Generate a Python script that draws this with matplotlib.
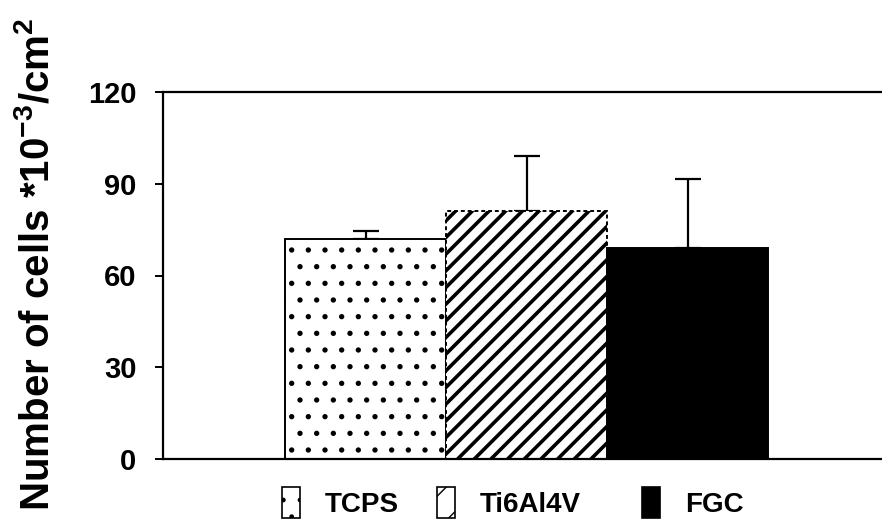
import matplotlib
matplotlib.use("Agg")
import matplotlib.pyplot as plt
from matplotlib.patches import Patch

plt.rcParams['font.family'] = ['Liberation Sans', 'DejaVu Sans']
plt.rcParams['font.weight'] = 'bold'
plt.rcParams['mathtext.default'] = 'regular'

# data
groups = ['TCPS', 'Ti6Al4V', 'FGC']
cells = [72, 81, 69]
cells_sd = [2.7, 18, 22.5]
hatches = ['.', '//', '']
legend_hatches = ['.', '/', '']
faces = ['white', 'white', 'black']
edge_styles = ['solid', (0, (2, 1.5)), 'solid']
yticks = [0, 30, 60, 90, 120]
# left edge of each legend entry (figure fraction)
legend_x = [282 / 882, 437 / 882, 642 / 882]

fig = plt.figure(figsize=(8.82, 5.29), dpi=100)
ax = fig.add_axes([163 / 882, 1 - 459 / 529, 1 - 163 / 882, (459 - 92) / 529])

pos = list(range(len(groups)))
for i in pos:
    with plt.rc_context({'hatch.linewidth': 1.4 if hatches[i] == '.' else 2.6}):
        ax.bar(i, cells[i], width=1.0, color=faces[i], edgecolor='black',
               hatch=hatches[i], linewidth=1.4, linestyle=edge_styles[i], zorder=2)
    ax.errorbar(i, cells[i], yerr=[[0], [cells_sd[i]]], fmt='none', ecolor='black',
                elinewidth=1.6, capsize=9.5, capthick=1.6, zorder=1)

ax.set_xlim(-1.258, 3.208)
ax.set_ylim(0, 120)
ax.set_yticks(yticks)
ax.set_yticklabels([str(t) for t in yticks], fontsize=21, fontweight='bold')
ax.set_xticks([])
ax.tick_params(axis='y', direction='out', length=6, width=1.4, pad=13)
ax.spines['right'].set_visible(False)
for s in ['left', 'top', 'bottom']:
    ax.spines[s].set_linewidth(1.6)
ax.set_ylabel(r'Number of cells *10$^{-3}$/cm$^{2}$', fontsize=29, fontweight='bold')
ax.yaxis.set_label_coords(-0.148, 0.53)

for i in pos:
    with plt.rc_context({'hatch.linewidth': 1.4 if hatches[i] == '.' else 1.6}):
        h = Patch(facecolor=faces[i], edgecolor='black', hatch=legend_hatches[i],
                  linewidth=1.2, label=groups[i])
    fig.legend(handles=[h], loc='center left', bbox_to_anchor=(legend_x[i], 0.05),
               frameon=False, fontsize=20, handlelength=0.65, handleheight=1.3,
               handletextpad=0.9, borderpad=0, borderaxespad=0)

fig.savefig('out.png', dpi=100)
